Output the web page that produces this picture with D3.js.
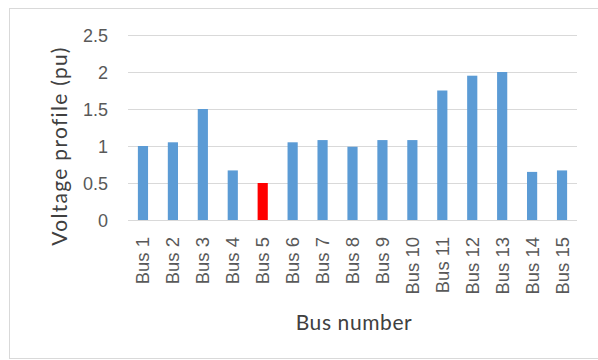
<!DOCTYPE html>
<html>
<head>
<meta charset="utf-8">
<script src="https://cdn.jsdelivr.net/npm/d3@7"></script>
<style>
  html, body { margin: 0; padding: 0; background: #fff; }
  svg { display: block; font-family: Lato, "Open Sans", sans-serif; }
</style>
</head>
<body>
<svg id="chart" width="598" height="360"></svg>
<script>
// Bus voltage profile data
const buses = ["Bus 1","Bus 2","Bus 3","Bus 4","Bus 5","Bus 6","Bus 7","Bus 8",
               "Bus 9","Bus 10","Bus 11","Bus 12","Bus 13","Bus 14","Bus 15"];
const voltages = [1.00, 1.05, 1.50, 0.67, 0.50, 1.05, 1.08, 0.99, 1.08, 1.08, 1.75, 1.95, 2.00, 0.65, 0.67];
const highlighted = ["Bus 5"];
const yTicks = [0, 0.5, 1, 1.5, 2, 2.5];

const svg = d3.select("#chart");
const W = 598, H = 360;
const m = { left: 128, right: 21, top: 35, bottom: 140 };

// chart frame
svg.append("rect")
  .attr("x", 9.5).attr("y", 8.5)
  .attr("width", W - 9).attr("height", H - 10)
  .attr("fill", "#fff").attr("stroke", "#d9d9d9");

const x = d3.scaleBand().domain(buses)
  .range([m.left, W - m.right]).paddingInner(0.66).paddingOuter(0.33);
const y = d3.scaleLinear().domain([0, 2.5]).range([H - m.bottom, m.top]);

// gridlines
svg.append("g").selectAll("line").data(yTicks).join("line")
  .attr("x1", m.left).attr("x2", W - m.right)
  .attr("y1", d => y(d) + 0.5).attr("y2", d => y(d) + 0.5)
  .attr("stroke", "#d9d9d9").attr("stroke-width", 1);

// y axis labels
const yAxis = svg.append("g")
  .attr("transform", `translate(${m.left - 20},0)`)
  .call(d3.axisLeft(y).tickValues(yTicks).tickSize(0).tickPadding(0).tickFormat(d3.format("")));
yAxis.select(".domain").remove();
yAxis.selectAll("text").attr("fill", "#595959").style("font-size", "18px")
  .attr("dy", "0.35em");

// bars
svg.append("g").selectAll("rect").data(buses).join("rect")
  .attr("x", d => x(d))
  .attr("width", x.bandwidth())
  .attr("y", (d, i) => y(voltages[i]))
  .attr("height", (d, i) => y(0) - y(voltages[i]))
  .attr("fill", d => highlighted.includes(d) ? "#ff0000" : "#5b9bd5");

// x axis labels (rotated)
const xAxis = svg.append("g")
  .attr("transform", `translate(0,${y(0)})`)
  .call(d3.axisBottom(x).tickSize(0).tickPadding(0));
xAxis.select(".domain").remove();
xAxis.selectAll("text")
  .attr("fill", "#595959").style("font-size", "18.5px")
  .attr("transform", "rotate(-90)")
  .attr("text-anchor", "end")
  .attr("x", -17).attr("y", 0).attr("dy", "0.35em");

// axis titles
svg.append("text")
  .attr("transform", `translate(67,146) rotate(-90)`)
  .attr("text-anchor", "middle")
  .attr("fill", "#404040").style("font-size", "21px")
  .style("letter-spacing", "1.3px")
  .text("Voltage profile (pu)");

svg.append("text")
  .attr("x", 354).attr("y", 330)
  .attr("text-anchor", "middle")
  .attr("fill", "#404040").style("font-size", "21px")
  .style("letter-spacing", "0.6px")
  .text("Bus number");
</script>
</body>
</html>
